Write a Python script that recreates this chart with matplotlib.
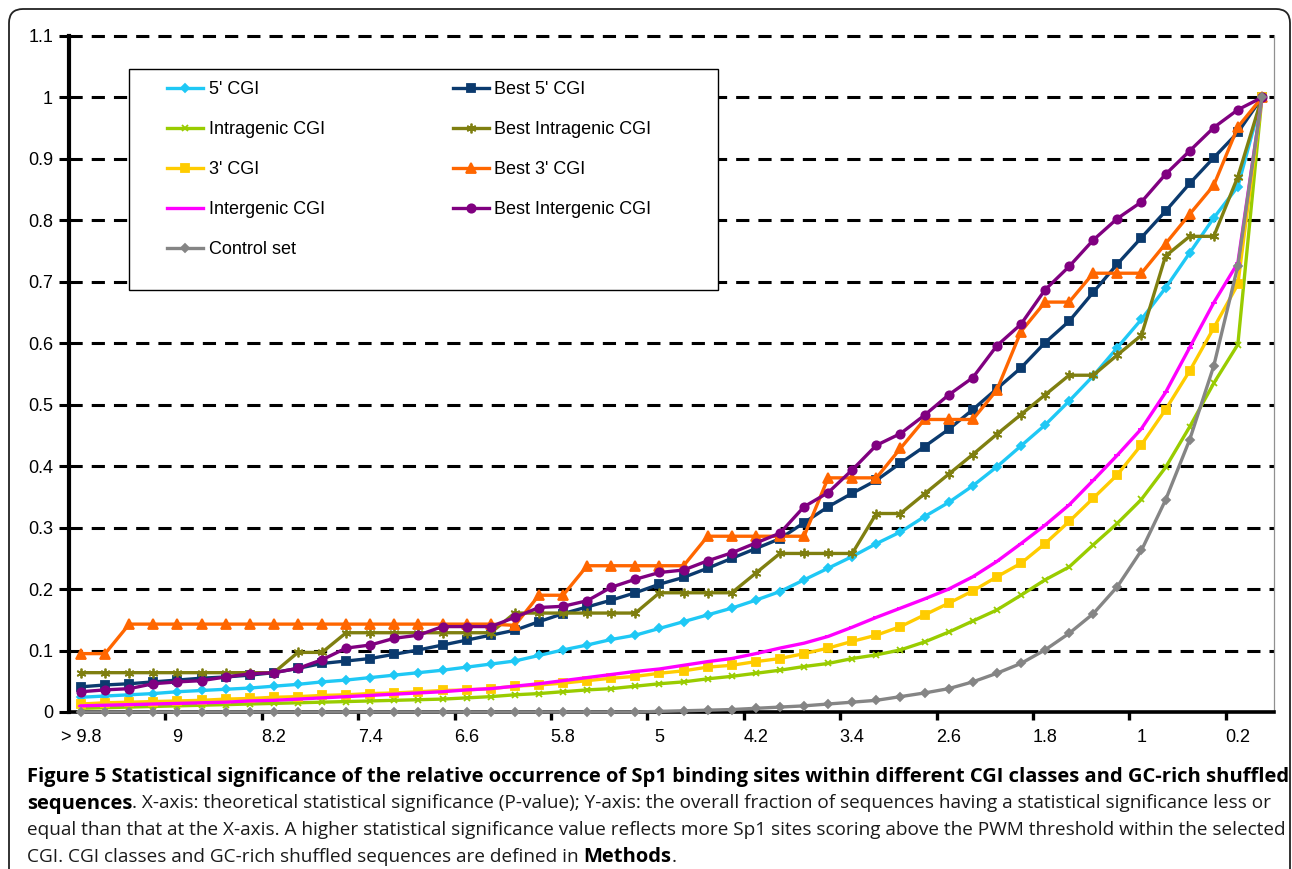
import matplotlib
matplotlib.use("Agg")
import matplotlib.pyplot as plt
from matplotlib.patches import Rectangle, FancyBboxPatch
from matplotlib.transforms import IdentityTransform
import numpy as np

plt.rcParams['font.family'] = ['Liberation Sans', 'DejaVu Sans']
plt.rcParams['lines.scale_dashes'] = False

# ---------------- data ----------------
categories = [">9.8", "9.6", "9.4", "9.2", "9", "8.8", "8.6", "8.4", "8.2", "8",
              "7.8", "7.6", "7.4", "7.2", "7", "6.8", "6.6", "6.4", "6.2", "6",
              "5.8", "5.6", "5.4", "5.2", "5", "4.8", "4.6", "4.4", "4.2", "4",
              "3.8", "3.6", "3.4", "3.2", "3", "2.8", "2.6", "2.4", "2.2", "2",
              "1.8", "1.6", "1.4", "1.2", "1", "0.8", "0.6", "0.4", "0.2", "0"]
shown_tick_labels = ["> 9.8", "9", "8.2", "7.4", "6.6", "5.8", "5", "4.2", "3.4", "2.6", "1.8", "1", "0.2"]

ytick_values = [0, 0.1, 0.2, 0.3, 0.4, 0.5, 0.6, 0.7, 0.8, 0.9, 1.0, 1.1]
ytick_labels = ["0", "0.1", "0.2", "0.3", "0.4", "0.5", "0.6", "0.7", "0.8", "0.9", "1", "1.1"]

five_cgi = [0.024, 0.026, 0.028, 0.030, 0.033, 0.035, 0.037, 0.039, 0.042, 0.045,
            0.049, 0.052, 0.056, 0.060, 0.064, 0.068, 0.073, 0.078, 0.083, 0.092,
            0.101, 0.109, 0.118, 0.125, 0.136, 0.147, 0.158, 0.169, 0.182, 0.196,
            0.215, 0.234, 0.253, 0.274, 0.293, 0.318, 0.341, 0.368, 0.399, 0.433,
            0.467, 0.506, 0.547, 0.593, 0.639, 0.690, 0.747, 0.804, 0.855, 1.0]

best_five_cgi = [0.041, 0.044, 0.046, 0.049, 0.052, 0.055, 0.057, 0.060, 0.064, 0.071,
                 0.079, 0.083, 0.087, 0.094, 0.101, 0.109, 0.117, 0.125, 0.133, 0.147,
                 0.160, 0.171, 0.182, 0.194, 0.208, 0.219, 0.234, 0.250, 0.266, 0.282,
                 0.308, 0.334, 0.356, 0.377, 0.405, 0.432, 0.460, 0.492, 0.526, 0.560,
                 0.601, 0.636, 0.683, 0.729, 0.772, 0.815, 0.860, 0.902, 0.943, 1.0]

intragenic_cgi = [0.006, 0.007, 0.008, 0.009, 0.010, 0.011, 0.012, 0.013, 0.014, 0.015,
                  0.016, 0.017, 0.018, 0.019, 0.020, 0.021, 0.023, 0.025, 0.028, 0.030,
                  0.033, 0.036, 0.038, 0.042, 0.046, 0.049, 0.054, 0.058, 0.063, 0.068,
                  0.074, 0.079, 0.087, 0.093, 0.101, 0.114, 0.130, 0.148, 0.166, 0.190,
                  0.215, 0.236, 0.272, 0.307, 0.346, 0.398, 0.464, 0.535, 0.598, 1.0]

best_intragenic_cgi = [0.064, 0.064, 0.064, 0.064, 0.064, 0.064, 0.064, 0.064, 0.064, 0.097,
                       0.097, 0.129, 0.129, 0.129, 0.129, 0.129, 0.129, 0.129, 0.161, 0.161,
                       0.161, 0.161, 0.161, 0.161, 0.194, 0.194, 0.194, 0.194, 0.226, 0.258,
                       0.258, 0.258, 0.258, 0.323, 0.323, 0.355, 0.387, 0.419, 0.452, 0.484,
                       0.516, 0.548, 0.548, 0.581, 0.613, 0.742, 0.774, 0.774, 0.871, 1.0]

three_cgi = [0.013, 0.015, 0.016, 0.017, 0.018, 0.019, 0.021, 0.022, 0.024, 0.025,
             0.027, 0.028, 0.030, 0.031, 0.033, 0.035, 0.036, 0.038, 0.042, 0.044,
             0.047, 0.051, 0.055, 0.058, 0.063, 0.067, 0.073, 0.076, 0.082, 0.087,
             0.095, 0.104, 0.115, 0.125, 0.139, 0.158, 0.177, 0.197, 0.220, 0.242,
             0.274, 0.310, 0.348, 0.386, 0.435, 0.492, 0.555, 0.625, 0.696, 1.0]

best_three_cgi = [0.095, 0.095, 0.143, 0.143, 0.143, 0.143, 0.143, 0.143, 0.143, 0.143,
                  0.143, 0.143, 0.143, 0.143, 0.143, 0.143, 0.143, 0.143, 0.141, 0.190,
                  0.190, 0.238, 0.238, 0.238, 0.238, 0.238, 0.286, 0.286, 0.286, 0.286,
                  0.286, 0.381, 0.381, 0.381, 0.429, 0.476, 0.476, 0.476, 0.524, 0.619,
                  0.667, 0.667, 0.714, 0.714, 0.714, 0.762, 0.810, 0.857, 0.952, 1.0]

intergenic_cgi = [0.010, 0.011, 0.012, 0.013, 0.014, 0.015, 0.016, 0.018, 0.019, 0.021,
                  0.023, 0.025, 0.027, 0.029, 0.031, 0.033, 0.036, 0.038, 0.042, 0.046,
                  0.051, 0.056, 0.061, 0.066, 0.070, 0.076, 0.082, 0.087, 0.095, 0.104,
                  0.112, 0.123, 0.138, 0.154, 0.169, 0.184, 0.200, 0.220, 0.245, 0.274,
                  0.304, 0.337, 0.377, 0.418, 0.461, 0.520, 0.593, 0.666, 0.731, 1.0]

best_intergenic_cgi = [0.033, 0.036, 0.038, 0.046, 0.049, 0.051, 0.057, 0.062, 0.064, 0.071,
                       0.085, 0.104, 0.109, 0.120, 0.125, 0.139, 0.139, 0.139, 0.154, 0.170,
                       0.172, 0.181, 0.203, 0.216, 0.227, 0.231, 0.246, 0.259, 0.275, 0.291,
                       0.334, 0.357, 0.394, 0.434, 0.453, 0.483, 0.516, 0.544, 0.596, 0.631,
                       0.687, 0.725, 0.768, 0.803, 0.830, 0.875, 0.913, 0.951, 0.980, 1.0]

control_set = [0.0, 0.0, 0.0, 0.0, 0.0, 0.0, 0.0, 0.0, 0.0, 0.0,
               0.0, 0.0, 0.0, 0.0, 0.0, 0.0, 0.0, 0.0, 0.0, 0.0,
               0.0, 0.0, 0.0, 0.0, 0.001, 0.002, 0.003, 0.004, 0.006, 0.008,
               0.010, 0.013, 0.016, 0.019, 0.025, 0.031, 0.038, 0.049, 0.063, 0.079,
               0.101, 0.128, 0.160, 0.204, 0.263, 0.345, 0.443, 0.563, 0.726, 1.0]

series_names = ["5' CGI", "Best 5' CGI", "Intragenic CGI", "Best Intragenic CGI",
                "3' CGI", "Best 3' CGI", "Intergenic CGI", "Best Intergenic CGI", "Control set"]
series_values = [five_cgi, best_five_cgi, intragenic_cgi, best_intragenic_cgi,
                 three_cgi, best_three_cgi, intergenic_cgi, best_intergenic_cgi, control_set]

# ---------------- style ----------------
colors = ['#1FC8F5', '#0B3A6E', '#99CC00', '#7F7F10', '#FFCC00', '#FF6600', '#FF00FF', '#800080', '#858585']
markers = ['D', 's', 'x', (6, 2, 0), 's', '^', '_', 'o', 'D']
msizes = [4.2, 5.5, 5.0, 7.0, 5.5, 6.5, 5.0, 6.0, 4.2]

W, H = 1292, 869
fig = plt.figure(figsize=(W / 100, H / 100), dpi=100)


def fx(px):
    return px / W


def fy(py):
    return 1 - py / H


ax = fig.add_axes([fx(69), fy(712), fx(1274) - fx(69), fy(36) - fy(712)])
xpos = np.arange(len(categories))

handles = []
for k, (name, vals) in enumerate(zip(series_names, series_values)):
    ln, = ax.plot(xpos, vals, color=colors[k], lw=2.4, marker=markers[k], ms=msizes[k],
                  mec=colors[k], mfc=colors[k], mew=1.3, label=name, zorder=4 + k * 0.1,
                  clip_on=False)
    handles.append(ln)

ax.set_xlim(-0.5, len(categories) - 0.5)
ax.set_ylim(0, 1.1)

# grid
for v in ytick_values[1:]:
    ax.axhline(v, color='black', lw=2.2, dashes=(9.5, 6.5), zorder=1, clip_on=False)

# spines
ax.spines['top'].set_visible(False)
ax.spines['right'].set_color('#909090')
ax.spines['right'].set_linewidth(0.9)
ax.spines['left'].set_linewidth(3.0)
ax.spines['bottom'].set_linewidth(2.6)
for s in ['left', 'bottom']:
    ax.spines[s].set_zorder(3)

# ticks
ax.set_yticks(ytick_values, labels=ytick_labels)
ax.tick_params(axis='y', direction='out', length=7.5, width=2.2, pad=4, labelsize=13)
major_x = np.arange(3.5, len(categories) - 1, 4)
ax.set_xticks(major_x, labels=[''] * len(major_x))
ax.set_xticks(xpos[::4], labels=shown_tick_labels, minor=True)
ax.tick_params(axis='x', which='major', direction='out', length=6, width=2.4)
ax.tick_params(axis='x', which='minor', length=0, pad=12, labelsize=13)

# legend frame and legend
frame = Rectangle((fx(129), fy(290)), fx(718) - fx(129), fy(69) - fy(290),
                  transform=fig.transFigure, facecolor='white', edgecolor='black',
                  lw=1.0, zorder=20, clip_on=False)
ax.add_patch(frame)
order = [0, 2, 4, 6, 8, 1, 3, 5, 7]
leg = ax.legend([handles[i] for i in order], [series_names[i] for i in order],
                ncol=2, loc='upper left', bbox_to_anchor=(fx(167), fy(81)),
                bbox_transform=fig.transFigure, frameon=False, fontsize=13,
                borderpad=0, borderaxespad=0, handlelength=2.0, handletextpad=0.3,
                labelspacing=1.28, columnspacing=7.1, numpoints=1)
leg.set_zorder(21)

# outer rounded frame
outer = FancyBboxPatch((9, -30), 1281, H - 9 + 30, boxstyle="round,pad=0,rounding_size=14",
                       transform=IdentityTransform(), facecolor='none', edgecolor='#222222',
                       lw=1.3)
fig.add_artist(outer)

# caption
caption_lines = [
    [("Figure 5 Statistical significance of the relative occurrence of Sp1 binding sites within different CGI classes and GC-rich shuffled", 'bold')],
    [("sequences", 'bold'), (". X-axis: theoretical statistical significance (P-value); Y-axis: the overall fraction of sequences having a statistical significance less or", 'normal')],
    [("equal than that at the X-axis. A higher statistical significance value reflects more Sp1 sites scoring above the PWM threshold within the selected", 'normal')],
    [("CGI. CGI classes and GC-rich shuffled sequences are defined in ", 'normal'), ("Methods", 'bold'), (".", 'normal')],
]
caption_baselines = [782, 808.5, 835, 861.5]
caption_family = ['Open Sans', 'DejaVu Sans']

renderer = fig.canvas.get_renderer()


def text_width(s, weight, size):
    t1 = fig.text(0, 0, s + '|', fontsize=size, fontweight=weight, family=caption_family)
    t2 = fig.text(0, 0, '|', fontsize=size, fontweight=weight, family=caption_family)
    w = t1.get_window_extent(renderer).width - t2.get_window_extent(renderer).width
    t1.remove()
    t2.remove()
    return w


base = 12.0
bold_size = base * (1285 - 27) / text_width(caption_lines[0][0][0], 'bold', base)
normal_size = base * (1283 - 27) / text_width(caption_lines[2][0][0], 'normal', base)
sizes = {'bold': bold_size, 'normal': normal_size}

for line, yb in zip(caption_lines, caption_baselines):
    x = 27
    for s, weight in line:
        fig.text(fx(x), fy(yb), s, fontsize=sizes[weight], fontweight=weight, family=caption_family,
                 color='#000000' if weight == 'bold' else '#1a1a1a', va='baseline', ha='left')
        x += text_width(s, weight, sizes[weight])

fig.savefig('out.png', dpi=100)
